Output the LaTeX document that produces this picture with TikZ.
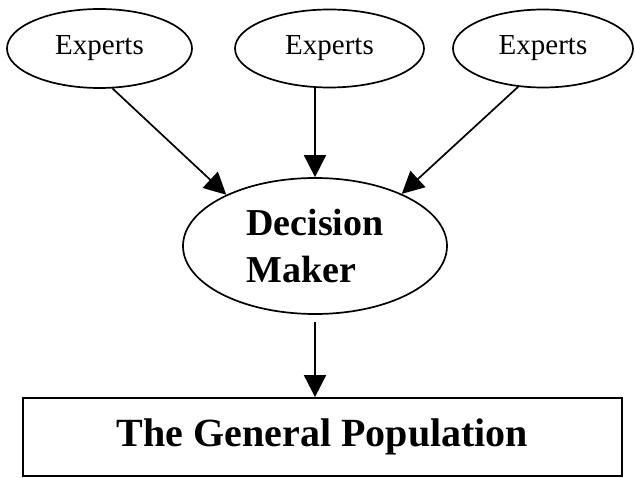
\documentclass[tikz,border=0pt]{standalone}
\usepackage{fontspec}
\setmainfont{Liberation Serif}
\usetikzlibrary{shapes.geometric,arrows.meta}
\tikzset{
  lw/.style={line width=1.7pt},
  expert/.style={draw, lw, ellipse, inner sep=0pt, font=\fontsize{29}{34}\selectfont},
  decider/.style={draw, lw, ellipse, inner sep=0pt, align=left, font=\fontsize{38}{47}\selectfont\bfseries},
  popbox/.style={draw, lw, rectangle, inner sep=0pt, font=\fontsize{40}{48}\selectfont\bfseries},
  arr/.style={lw, -{Triangle[length=22pt,width=22pt]}}
}
\begin{document}
\begin{tikzpicture}[x=1pt,y=1pt]
\useasboundingbox (0,0) rectangle (635,477);
\node[expert, minimum width=185pt, minimum height=79pt] (e1) at (99.5,428.5) {Experts};
\node[expert, minimum width=189pt, minimum height=78pt] (e2) at (329.5,428.5) {Experts};
\node[expert, minimum width=180pt, minimum height=78pt] (e3) at (543,428.5) {Experts};
\node[decider, minimum width=264pt, minimum height=136pt] (dm) at (315,231) {Decision\\Maker};
\node[popbox, minimum width=599pt, minimum height=78pt] (gp) at (322.5,40) {The General Population};
\draw[arr] (e1.-72.4) -- (dm.150.4);
\draw[arr] (e2.-107.6 -| dm.north) -- (dm.north);
\draw[arr] (e3.-123) -- (dm.31);
\draw[arr, shorten <=7pt] (dm.south) -- (gp.north -| dm.south);
\end{tikzpicture}
\end{document}
